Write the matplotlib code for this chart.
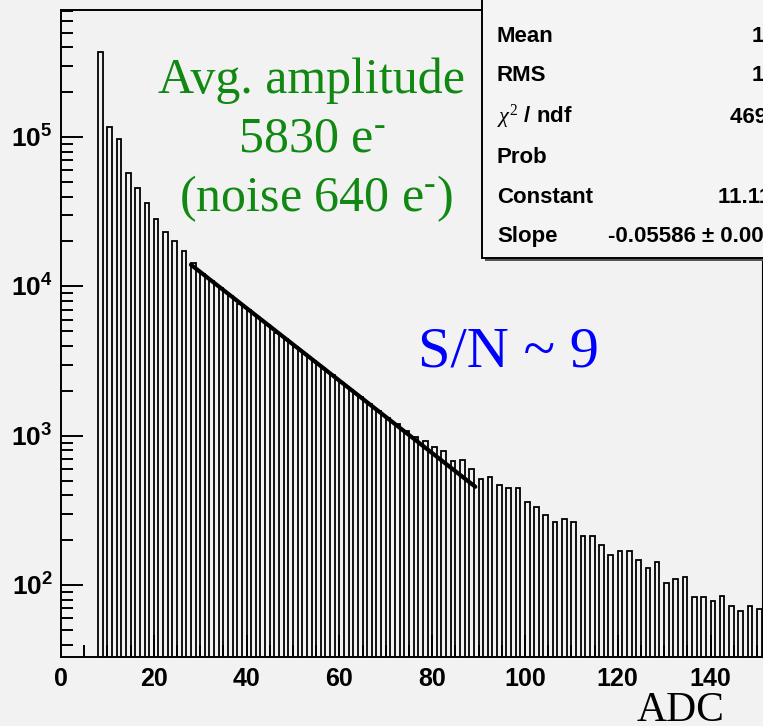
import matplotlib
matplotlib.use("Agg")

import numpy as np
import matplotlib.pyplot as plt
from matplotlib.patches import Rectangle
from matplotlib.ticker import LogLocator, MultipleLocator, NullFormatter, FuncFormatter

plt.rcParams['mathtext.fontset'] = 'custom'
plt.rcParams['mathtext.rm'] = 'Liberation Serif'
plt.rcParams['mathtext.it'] = 'Liberation Serif:italic'
plt.rcParams['mathtext.bf'] = 'Liberation Sans:bold'

# histogram: left edge of each 2-ADC bin and its entries
adc_bins = np.arange(8, 151, 2)
counts = [
    372000, 116000, 97500, 57700, 45700, 36000, 28400, 23100, 20000, 17200,
    14400, 12200, 10800, 9770, 8610, 7670, 6920, 6170, 5560, 4900,
    4420, 3940, 3550, 3160, 2850, 2540, 2260, 2040, 1820, 1640,
    1460, 1320, 1190, 1070, 977, 920, 843, 793, 676, 687,
    596, 512, 527, 470, 444, 444, 361, 334, 294, 262,
    276, 262, 213, 213, 184, 159, 169, 169, 146, 130,
    142, 103, 109, 112, 82, 82, 77, 83, 72, 66,
    72, 68,
]

# exponential fit (from the stats box)
fit_const = 11.11
fit_slope = -0.05586
fit_range = (28, 89.3)

# stats box rows (values are cut by the right edge of the picture)
stat_names = ["Mean", "RMS", r"$\chi^{2}$ / ndf", "Prob", "Constant", "Slope"]
stat_values = ["18.94", "16.37", "4692 / 29", "", "11.11 ± 0.01", "-0.05586 ± 0.00012"]

W, H = 763, 726
bg = "#f2f2f2"


def px(x, y):
    return x / W, 1 - y / H


fig = plt.figure(figsize=(W / 100, H / 100), dpi=100, facecolor=bg)
ax = fig.add_axes([61 / W, 1 - 657 / H, (762 - 61) / W, (657 - 10) / H])
ax.set_facecolor(bg)

ax.bar(adc_bins, counts, width=1.0, align="edge", bottom=1,
       fill=False, edgecolor="black", linewidth=1.3)

xs = np.linspace(fit_range[0], fit_range[1], 200)
ax.plot(xs, np.exp(fit_const + fit_slope * xs), color="black", lw=3.0,
        solid_capstyle="round")

ax.set_yscale("log")
ax.set_xlim(0, 151.1)
ax.set_ylim(33, 7.1e5)

ax.xaxis.set_major_locator(MultipleLocator(20))
ax.xaxis.set_minor_locator(MultipleLocator(5))
ax.yaxis.set_major_locator(LogLocator(base=10, numticks=10))
ax.yaxis.set_minor_locator(LogLocator(base=10, subs=np.arange(2, 10), numticks=20))
ax.yaxis.set_minor_formatter(NullFormatter())
ax.yaxis.set_major_formatter(FuncFormatter(
    lambda v, p: r"$\mathbf{10^{%d}}$" % round(np.log10(v))))

ax.tick_params(which="both", direction="in", width=1.4, top=False, right=False)
ax.tick_params(which="major", length=16)
ax.tick_params(which="minor", length=8.5)
ax.tick_params(axis="x", which="major", pad=7, labelsize=18)
ax.tick_params(axis="y", which="major", pad=6, labelsize=19)
for lab in ax.get_xticklabels():
    lab.set_fontfamily("Liberation Sans")
    lab.set_fontweight("bold")

for s in ax.spines.values():
    s.set_linewidth(1.4)
ax.spines["right"].set_linewidth(0.8)

# annotations
green = "#118811"
fig.text(*px(312, 93), "Avg. amplitude", color=green, family="Liberation Serif",
         fontsize=36, ha="center", va="baseline")
fig.text(*px(312, 152), r"5830 e$^{\text{-}}$", color=green, family="Liberation Serif",
         fontsize=36, ha="center", va="baseline")
fig.text(*px(316, 211), r"(noise 640 e$^{\text{-}}$)", color=green,
         family="Liberation Serif", fontsize=36, ha="center", va="baseline")
fig.text(*px(508, 367), r"S/N ~ 9", color="#0000ff", family="Liberation Serif",
         fontsize=42, ha="center", va="baseline")
fig.text(*px(681, 721), "ADC", color="black", family="Liberation Serif",
         fontsize=30, ha="center", va="baseline")

# stats box, cut by the image edge
fig.add_artist(Rectangle(px(485, 261), 400 / W, 300 / H, transform=fig.transFigure,
                         facecolor="#555555", edgecolor="none", zorder=4))
fig.add_artist(Rectangle(px(482, 258), 400 / W, 300 / H, transform=fig.transFigure,
                         facecolor="#f4f4f4", edgecolor="black", lw=1.4, zorder=5))
row_y = [42, 81, 123, 163, 203, 242]
val_x = [752, 752, 730, 760, 718, 608]
for name, val, y, vx in zip(stat_names, stat_values, row_y, val_x):
    fig.text(*px(497, y), name, family="Liberation Sans", fontweight="bold",
             fontsize=16, ha="left", va="baseline", zorder=6)
    if val:
        fig.text(*px(vx, y), val, family="Liberation Sans", fontweight="bold",
                 fontsize=16, ha="left", va="baseline", zorder=6)

fig.savefig("out.png", dpi=100, facecolor=bg)
